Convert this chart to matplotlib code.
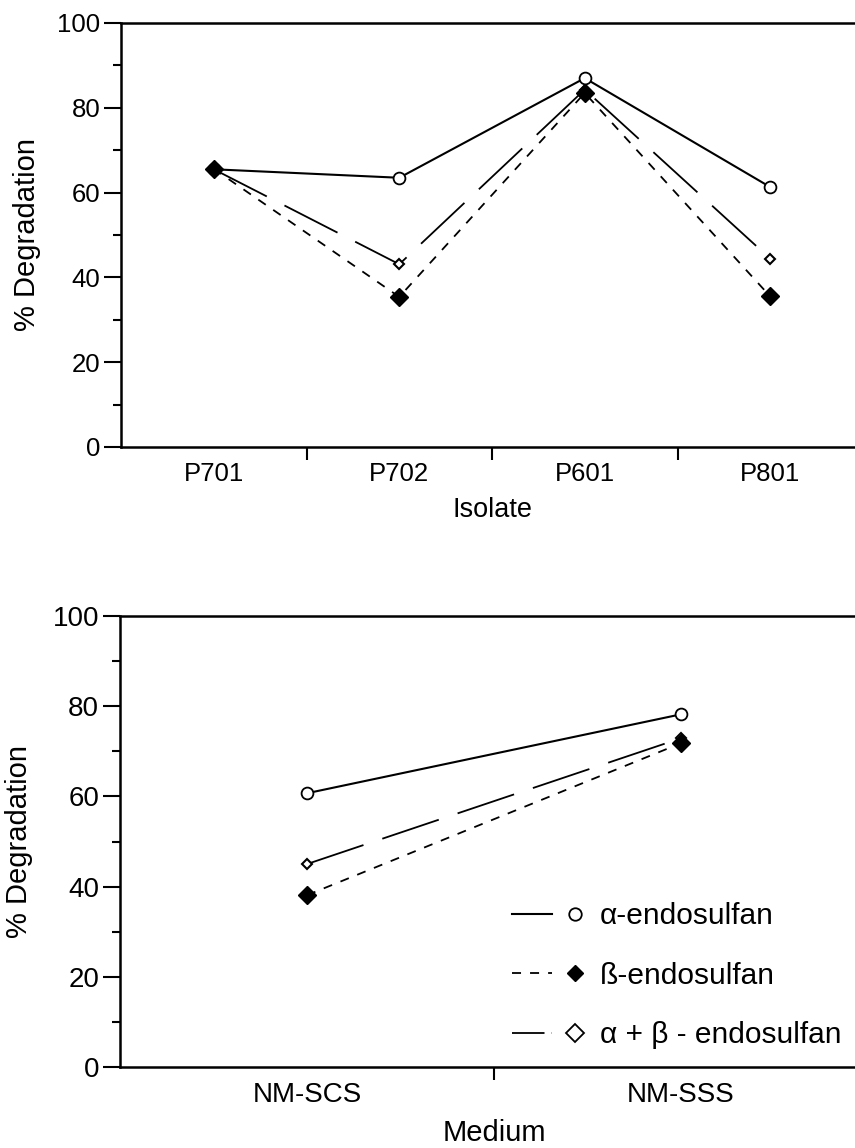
import matplotlib
matplotlib.use('Agg')
import matplotlib.pyplot as plt
from matplotlib.lines import Line2D
from matplotlib.legend_handler import HandlerTuple
from matplotlib.ticker import FixedLocator

plt.rcParams['font.family'] = ['Liberation Sans', 'DejaVu Sans']

# data
isolates = ['P701', 'P702', 'P601', 'P801']
alpha_iso = [65.5, 63.5, 87.0, 61.3]
beta_iso = [65.6, 35.4, 83.5, 35.5]
ab_iso = [65.5, 43.1, 84.3, 44.4]

media = ['NM-SCS', 'NM-SSS']
alpha_med = [60.7, 78.2]
beta_med = [38.1, 71.8]
ab_med = [45.0, 72.9]

labels = [u'\u03b1-endosulfan', u'\u00df-endosulfan', u'\u03b1 + \u03b2 - endosulfan']

W, H = 855, 1148
fig = plt.figure(figsize=(W / 100.0, H / 100.0), dpi=100)

solid = dict(color='black', lw=1.5, linestyle='-')
short = dict(color='black', lw=1.3, linestyle=(0, (5, 5)))
longd = dict(color='black', lw=1.3, linestyle=(0, (33, 11)))


def pix_axes(x0, y0, x1, y1):
    # pixel box -> figure fraction
    return fig.add_axes([x0 / W, 1 - y1 / H, (x1 - x0) / W, (y1 - y0) / H])


def draw(ax, cats, a, b, ab, xlabel, ylabel_x, fs):
    x = list(range(1, len(cats) + 1))
    ax.plot(x, ab, marker='D', ms=5.5, mfc='white', mec='black', mew=1.5, zorder=3, **longd)
    ax.plot(x, b, marker='D', ms=9, mfc='black', mec='black', zorder=4, **short)
    ax.plot(x, a, marker='o', ms=8.5, mfc='white', mec='black', mew=1.3, zorder=3, **solid)

    ax.set_xlim(0.5, len(cats) + 0.5)
    ax.set_ylim(0, 100)
    ax.set_xticks(x)
    ax.set_xticklabels(cats)
    ax.xaxis.set_minor_locator(FixedLocator([i + 0.5 for i in x[:-1]]))
    ax.set_yticks(range(0, 101, 20))
    ax.yaxis.set_minor_locator(FixedLocator(range(10, 100, 20)))
    ax.tick_params(axis='x', which='major', length=0, pad=11, labelsize=fs)
    ax.tick_params(axis='x', which='minor', length=9, width=1.5, direction='out')
    ax.tick_params(axis='y', which='major', length=12, width=1.5, direction='out', pad=3, labelsize=fs)
    ax.tick_params(axis='y', which='minor', length=6, width=1.5, direction='out')
    for s in ax.spines.values():
        s.set_linewidth(1.8)
    ax.spines['right'].set_visible(False)
    ax.set_xlabel(xlabel, fontsize=fs + 1, labelpad=8)
    ax.set_ylabel('% Degradation', fontsize=21)
    ax.yaxis.set_label_coords(ylabel_x, 0.5)


ax1 = pix_axes(121, 23, 863, 447)
draw(ax1, isolates, alpha_iso, beta_iso, ab_iso, 'Isolate', -0.108, 18.5)

ax2 = pix_axes(120, 616, 868, 1067)
draw(ax2, media, alpha_med, beta_med, ab_med, 'Medium', -0.116, 20)

# legend: line segment followed by marker
h_a = (Line2D([], [], **solid), Line2D([], [], ls='none', marker='o', ms=9, mfc='white', mec='black', mew=1.3))
h_b = (Line2D([], [], **short), Line2D([], [], ls='none', marker='D', ms=8.5, mfc='black', mec='black'))
h_ab = (Line2D([], [], color='black', lw=1.3, linestyle=(0, (18, 4, 5, 4))),
        Line2D([], [], ls='none', marker='D', ms=9, mfc='white', mec='black', mew=1.3))
ax2.legend([h_a, h_b, h_ab], labels, handler_map={tuple: HandlerTuple(ndivide=None, pad=0.1)},
           loc='upper left', bbox_to_anchor=(0.524, 0.365), frameon=False, fontsize=21.5,
           handlelength=2.8, handletextpad=0.15, labelspacing=1.05, borderpad=0, borderaxespad=0)

fig.savefig('out.png', dpi=100)
